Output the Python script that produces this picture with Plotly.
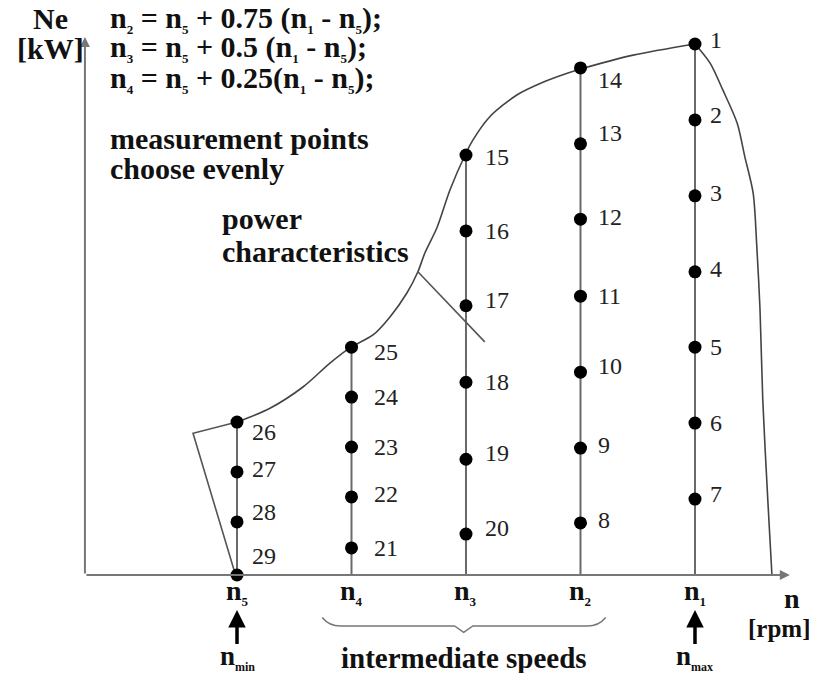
import plotly.graph_objects as go

# speed positions, % of (n1 - n5)
speed_names = ["n5", "n4", "n3", "n2", "n1"]
speed_pos = [0, 25, 50, 75, 100]

# power at measurement points, % of max power (top -> bottom on each speed line)
pts_n1 = [100.0, 85.7, 71.4, 57.1, 42.9, 28.6, 14.3]
ids_n1 = [1, 2, 3, 4, 5, 6, 7]
pts_n2 = [95.5, 81.2, 67.0, 52.5, 38.2, 23.9, 9.8]
ids_n2 = [14, 13, 12, 11, 10, 9, 8]
pts_n3 = [79.1, 64.8, 50.7, 36.3, 21.8, 7.7]
ids_n3 = [15, 16, 17, 18, 19, 20]
pts_n4 = [42.9, 33.5, 24.1, 14.7, 5.1]
ids_n4 = [25, 24, 23, 22, 21]
pts_n5 = [28.8, 19.4, 10.0, 0.0]
ids_n5 = [26, 27, 28, 29]

# full-load power curve (n5 -> n1)
curve_x = [0, 7.2, 14.4, 20.3, 24.9, 29.7, 33.4, 37.1, 39.5, 41.0, 43.7, 46.5, 49.8,
           51.5, 55.2, 61.1, 66.8, 72.1, 75.1, 86.5, 100]
curve_y = [28.8, 31.4, 35.4, 39.9, 42.9, 45.2, 48.6, 53.1, 57.1, 60.6, 65.5, 72.5, 79.1,
           81.9, 86.3, 90.4, 92.8, 94.5, 95.3, 97.9, 100]
# governor branch beyond n1
gov_x = [100, 103.3, 106.1, 109.2, 110.9, 112.7, 113.5, 114.2, 114.8, 115.9, 116.8]
gov_y = [100, 96.4, 91.3, 85.1, 78.7, 71.9, 61.8, 49.9, 33.0, 14.1, 0.0]
# low idle branch
idle_x = [0, -9.6, -0.5]
idle_y = [28.8, 26.7, 0.5]
# pointer of "power characteristics"
ptr_x = [39.5, 54.1]
ptr_y = [57.1, 43.9]

columns = [
    (speed_pos[4], pts_n1, ids_n1, 13),
    (speed_pos[3], pts_n2, ids_n2, 16),
    (speed_pos[2], pts_n3, ids_n3, 17),
    (speed_pos[1], pts_n4, ids_n4, 20),
    (speed_pos[0], pts_n5, ids_n5, 13),
]
# label vertical nudges (px, + = up)
label_dy = {1: 4, 2: 5, 3: 3, 4: 3, 7: 5, 8: 3, 9: 3, 10: 6, 12: 2, 13: 11, 14: -12,
            15: -2, 17: 6, 19: 6, 20: 6, 25: -5, 22: 3, 26: -10, 27: 3, 28: 10, 29: 19}

SERIF = "Liberation Serif, Times New Roman, serif"
INK = "#111111"
W, H, OFF = 817, 673, 8   # page size and default body margin of the html page


def sub(s, size=12):
    return '<sub><span style="font-size:%dpx">%s</span></sub>' % (size, s)


fig = go.Figure()

for x0, ys, ids, xs in columns:
    fig.add_trace(go.Scatter(x=[x0, x0], y=[ys[0], 0], mode="lines",
                             line=dict(color="#6a6a6a", width=2), hoverinfo="skip"))

fig.add_trace(go.Scatter(x=curve_x, y=curve_y, mode="lines", line=dict(color="#444", width=1.6, shape="spline", smoothing=0.8)))
fig.add_trace(go.Scatter(x=gov_x, y=gov_y, mode="lines", line=dict(color="#444", width=1.6, shape="spline", smoothing=0.8)))
fig.add_trace(go.Scatter(x=idle_x, y=idle_y, mode="lines", line=dict(color="#555", width=1.6)))
fig.add_trace(go.Scatter(x=ptr_x, y=ptr_y, mode="lines", line=dict(color="#555", width=1.6)))

for x0, ys, ids, xs in columns:
    fig.add_trace(go.Scatter(x=[x0] * len(ys), y=ys, mode="markers",
                             marker=dict(color="black", size=13)))
    for yv, i in zip(ys, ids):
        fig.add_annotation(x=x0, y=yv, text=str(i), showarrow=False, xanchor="left",
                           xshift=xs, yshift=label_dy.get(i, 0),
                           font=dict(family=SERIF, size=24, color="#222"))

# axes with arrows
x_axis_left, x_axis_right, y_axis_top = -33.2, 120.7, 101.3
fig.add_annotation(x=x_axis_left, y=y_axis_top, ax=x_axis_left, ay=0, axref="x", ayref="y",
                   showarrow=True, arrowhead=2, arrowsize=1, arrowwidth=2, arrowcolor="#777", text="")
fig.add_annotation(x=x_axis_right, y=0, ax=x_axis_left, ay=0, axref="x", ayref="y",
                   showarrow=True, arrowhead=2, arrowsize=1, arrowwidth=2, arrowcolor="#777", text="")

# speed tick labels
for nm, xp in zip(speed_names, speed_pos):
    fig.add_annotation(x=xp, y=-3.2, text="<b>n%s</b>" % sub(nm[1], 13), showarrow=False,
                       font=dict(family=SERIF, size=28, color=INK))

# n_min / n_max arrows
for xp, lab in [(speed_pos[0], "min"), (speed_pos[4], "max")]:
    fig.add_annotation(x=xp, y=-6.6, ax=xp, ay=-13.3, axref="x", ayref="y", showarrow=True,
                       arrowhead=2, arrowsize=1, arrowwidth=3.5, arrowcolor="black", text="")
    fig.add_annotation(x=xp, y=-15.5, text="<b>n%s</b>" % sub(lab, 12), showarrow=False,
                       font=dict(family=SERIF, size=27, color=INK))

# brace under intermediate speeds
bl, br, bm, by, bt = 18.6, 80.5, 49.5, -9.6, -8.0
fig.add_shape(type="path", xref="x", yref="y",
              path=f"M {bl},{bt} Q {bl+1.5},{by} {bl+4},{by} L {bm-2},{by} L {bm},{by-1.2} "
                   f"L {bm+2},{by} L {br-4},{by} Q {br-1.5},{by} {br},{bt}",
              line=dict(color="#777", width=1.5))
fig.add_annotation(x=bm, y=-15.7, text="<b>intermediate speeds</b>", showarrow=False,
                   font=dict(family=SERIF, size=29, color=INK))


def ptext(px, py, txt, size=30, anchor="left"):
    # px, py: page pixels from top-left
    fig.add_annotation(xref="paper", yref="paper", x=(px - OFF) / (W - OFF),
                       y=1 - (py - OFF) / (H - OFF), text=txt,
                       showarrow=False, xanchor=anchor, yanchor="middle",
                       font=dict(family=SERIF, size=size, color=INK))


ptext(50, 19, "<b>Ne</b>", anchor="center")
ptext(50, 48, "<b>[kW]</b>", anchor="center")
ptext(792, 598, "<b>n</b>", size=28, anchor="center")
ptext(812, 628, "<b>[rpm]</b>", size=25, anchor="right")

s = lambda d: sub(d, 13)
ptext(108, 19, "<b>n%s = n%s + 0.75 (n%s - n%s);</b>" % (s(2), s(5), s(1), s(5)))
ptext(108, 48, "<b>n%s = n%s + 0.5 (n%s - n%s);</b>" % (s(3), s(5), s(1), s(5)))
ptext(108, 79, "<b>n%s = n%s + 0.25(n%s - n%s);</b>" % (s(4), s(5), s(1), s(5)))
ptext(108, 139, "<b>measurement points</b>")
ptext(108, 169, "<b>choose evenly</b>")
ptext(220, 219, "<b>power</b>")
ptext(220, 251, "<b>characteristics</b>")

fig.update_layout(
    width=W - OFF, height=H - OFF,
    margin=dict(l=0, r=0, t=0, b=0),
    paper_bgcolor="white", plot_bgcolor="white",
    showlegend=False,
    xaxis=dict(range=[-50.0, 126.64], visible=False, fixedrange=True),
    yaxis=dict(range=[-18.46, 106.78], visible=False, fixedrange=True),
)

fig.write_html("out.html")
